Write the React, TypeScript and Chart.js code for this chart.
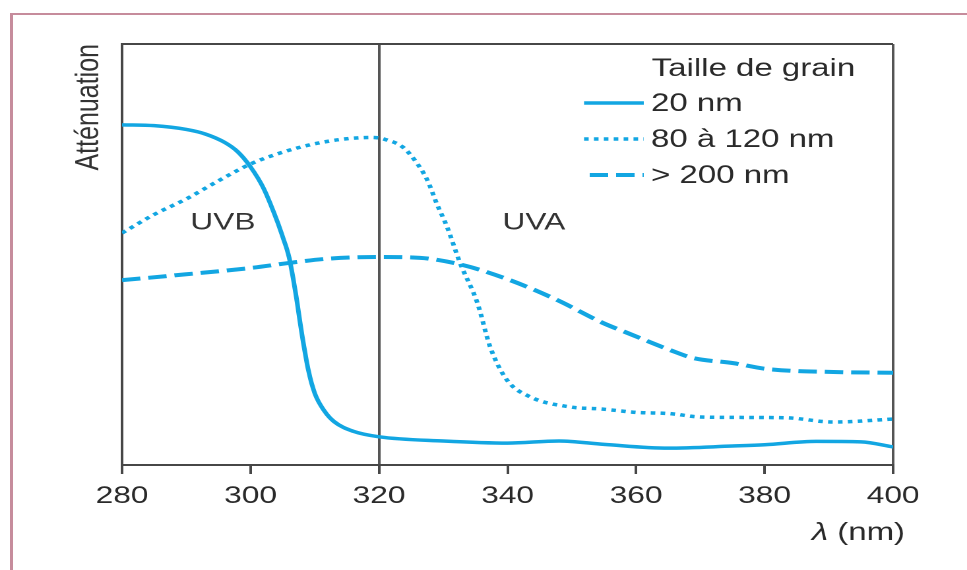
import React, { useEffect, useRef } from 'react';
import { Chart, registerables } from 'chart.js';

Chart.register(...registerables);

// ---- Data ----
const xMin = 280;
const xMax = 400;
const xStep = 20;
const markerLambda = 320;

const legendTitle = 'Taille de grain';
const seriesLabels = ['20 nm', '80 à 120 nm', '> 200 nm'];

const lambda20 = [280, 285, 290, 293, 296, 298, 300, 302, 304, 305, 306, 307, 308, 309, 310, 311.5, 313, 316, 320, 330, 340, 348, 355, 365, 375, 380, 388, 395, 400];
const att20 = [80.8, 80.6, 79.7, 78.6, 76.6, 74.4, 70.8, 65.8, 58.5, 54.2, 49.3, 41, 31, 22.5, 17, 12.8, 10.3, 8, 6.7, 5.7, 5.2, 5.7, 4.9, 4.0, 4.5, 4.8, 5.6, 5.5, 4.3];

const lambda100 = [280, 285, 290, 295, 300, 305, 310, 315, 319, 321, 323.7, 325.5, 327.5, 329, 330.6, 332.6, 335.3, 337.3, 339.9, 343.5, 349.7, 354.6, 360, 365.3, 370, 376, 383.5, 390.7, 400];
const att100 = [55.1, 59.5, 63.2, 67.5, 71.5, 74.3, 76.3, 77.5, 77.8, 77.3, 75.5, 72.5, 67.7, 62, 56.5, 48, 38.5, 28, 20.2, 16.2, 13.8, 13.3, 12.5, 12.2, 11.4, 11.3, 11.2, 10.2, 10.9];

const lambda200 = [280, 290, 300, 306, 312, 320, 326.4, 333, 340.4, 347.7, 354.9, 358.6, 365.3, 368.9, 375.1, 380.4, 390.7, 400];
const att200 = [43.9, 45.3, 46.8, 48, 49, 49.4, 49.2, 47.5, 43.9, 39.2, 33.7, 31.4, 27.3, 25.4, 24.2, 22.8, 22.1, 21.9];

const regionLabels = ['UVB', 'UVA'];
const regionLambda = [295.7, 344.1];
const regionAtt = [57.5, 57.5];

const yTitle = 'Atténuation';
const xTitleSymbol = 'λ';
const xTitleUnit = ' (nm)';

// ---- Styles ----
const FONT = '"Liberation Sans", Arial, sans-serif';
const BLUE = '#12a6e2';
const AXIS = '#474747';
const TEXT = '#2a2a2a';

const CANVAS_W = 733;
const CANVAS_H = 570;
const STRETCH = 967 / CANVAS_W;

const toPoints = (xs: number[], ys: number[]) => xs.map((x, i) => ({ x, y: ys[i] }));

const textPlugin = {
  id: 'textPlugin',
  afterDraw(chart: any) {
    const { ctx, scales } = chart;
    const xs = scales.x;
    const ys = scales.y;
    ctx.save();
    ctx.textBaseline = 'middle';
    ctx.textAlign = 'left';

    // Legend
    ctx.font = `25px ${FONT}`;
    ctx.fillStyle = TEXT;
    ctx.fillText(legendTitle, 494, 69);
    const rowY = [103, 139, 175];
    const lineStart = [442.7, 442.7, 447];
    chart.data.datasets.forEach((ds: any, i: number) => {
      const y = rowY[i];
      ctx.save();
      ctx.strokeStyle = ds.borderColor;
      ctx.lineWidth = ds.borderWidth;
      ctx.setLineDash(ds.borderDash || []);
      ctx.beginPath();
      ctx.moveTo(lineStart[i], y);
      ctx.lineTo(488, y);
      ctx.stroke();
      ctx.restore();
      ctx.fillText(ds.label, 493.5, y + 1);
    });

    // Region labels
    ctx.font = `24px ${FONT}`;
    ctx.fillStyle = '#333';
    ctx.textAlign = 'center';
    regionLabels.forEach((t, i) => {
      ctx.fillText(t, xs.getPixelForValue(regionLambda[i]), ys.getPixelForValue(regionAtt[i]));
    });

    // X axis title
    ctx.textAlign = 'right';
    ctx.fillStyle = TEXT;
    ctx.font = `25px ${FONT}`;
    const unitW = ctx.measureText(xTitleUnit).width;
    const right = 686;
    ctx.fillText(xTitleUnit, right, 533);
    ctx.font = `italic 25px ${FONT}`;
    ctx.fillText(xTitleSymbol, right - unitW, 533);
    ctx.restore();
  },
};

export default function App() {
  const canvasRef = useRef<HTMLCanvasElement | null>(null);

  useEffect(() => {
    if (!canvasRef.current) return;
    const chart = new Chart(canvasRef.current, {
      type: 'line',
      data: {
        datasets: [
          {
            label: seriesLabels[0],
            data: toPoints(lambda20, att20),
            borderColor: BLUE,
            borderWidth: 3.5,
            pointRadius: 0,
            cubicInterpolationMode: 'monotone',
            fill: false,
          },
          {
            label: seriesLabels[1],
            data: toPoints(lambda100, att100),
            borderColor: BLUE,
            borderWidth: 3.5,
            borderDash: [3.5, 4],
            pointRadius: 0,
            cubicInterpolationMode: 'monotone',
            fill: false,
          },
          {
            label: seriesLabels[2],
            data: toPoints(lambda200, att200),
            borderColor: BLUE,
            borderWidth: 4,
            borderDash: [14, 6],
            pointRadius: 0,
            cubicInterpolationMode: 'monotone',
            fill: false,
          },
        ],
      },
      options: {
        animation: false,
        responsive: false,
        devicePixelRatio: 2,
        layout: { padding: { left: 0, top: 44, right: 56, bottom: 0 } },
        plugins: {
          legend: { display: false },
          tooltip: { enabled: false },
        },
        scales: {
          x: {
            type: 'linear',
            min: xMin,
            max: xMax,
            afterFit: (scale: any) => {
              scale.height = 105;
            },
            ticks: {
              stepSize: xStep,
              color: TEXT,
              padding: 8,
              font: { family: FONT, size: 24 },
              maxRotation: 0,
            },
            grid: {
              display: true,
              drawOnChartArea: true,
              drawTicks: true,
              tickLength: 9,
              tickWidth: 2,
              tickColor: AXIS,
              lineWidth: 2,
              color: (c: any) =>
                c.tick && (c.tick.value === markerLambda || c.tick.value === xMax) ? '#555' : 'rgba(0,0,0,0)',
            },
            border: { display: true, color: AXIS, width: 2 },
          },
          y: {
            type: 'linear',
            min: 0,
            max: 100,
            afterFit: (scale: any) => {
              scale.width = 92.5;
            },
            ticks: { display: false, stepSize: 50 },
            grid: {
              display: true,
              drawTicks: false,
              lineWidth: 2,
              color: (c: any) => (c.tick && c.tick.value === 100 ? AXIS : 'rgba(0,0,0,0)'),
            },
            border: { display: true, color: AXIS, width: 2 },
            title: {
              display: true,
              text: yTitle,
              align: 'end',
              color: '#333',
              font: { family: FONT, size: 25 },
              padding: { top: 52.8, bottom: 0 },
            },
          },
        },
      },
      plugins: [textPlugin],
    } as any);
    return () => chart.destroy();
  }, []);

  return (
    <>
      <div
        style={{
          position: 'fixed',
          left: 10,
          top: 13,
          width: 1000,
          height: 600,
          borderTop: '2px solid #c68c9c',
          borderLeft: '3px solid #c68c9c',
          pointerEvents: 'none',
        }}
      />
      <div
        style={{
          position: 'fixed',
          left: 0,
          top: 0,
          width: CANVAS_W,
          height: CANVAS_H,
          transform: `scaleX(${STRETCH})`,
          transformOrigin: '0 0',
        }}
      >
        <canvas ref={canvasRef} width={CANVAS_W} height={CANVAS_H} style={{ display: 'block' }} />
      </div>
    </>
  );
}
